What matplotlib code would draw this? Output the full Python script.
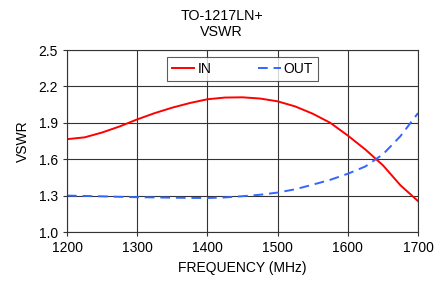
import matplotlib
matplotlib.use("Agg")
import matplotlib.pyplot as plt

freq = [1200, 1225, 1250, 1275, 1300, 1325, 1350, 1375, 1400, 1425, 1450, 1475,
        1500, 1525, 1550, 1575, 1600, 1625, 1650, 1675, 1700]
vswr_in = [1.765, 1.78, 1.82, 1.87, 1.928, 1.98, 2.025, 2.063, 2.094, 2.108, 2.11, 2.10,
           2.077, 2.035, 1.975, 1.90, 1.795, 1.68, 1.55, 1.385, 1.255]
vswr_out = [1.30, 1.297, 1.294, 1.29, 1.287, 1.285, 1.283, 1.281, 1.28, 1.285, 1.295, 1.307,
            1.325, 1.352, 1.39, 1.43, 1.48, 1.54, 1.64, 1.79, 1.98]
xticks = [1200, 1300, 1400, 1500, 1600, 1700]
yticks = [1.0, 1.3, 1.6, 1.9, 2.2, 2.5]

plt.rcParams['font.family'] = ['Liberation Sans', 'DejaVu Sans']
fig = plt.figure(figsize=(4.46, 2.83), dpi=100)
ax = fig.add_axes([67/446, 1-232/283, (418-67)/446, (232-50)/283])
ax.plot(freq, vswr_in, color='#FF0000', lw=1.4, label='IN')
ax.plot(freq, vswr_out, color='#3366FF', lw=1.4, ls=(0, (5, 3)), label='OUT')
ax.set_xlim(1200, 1700)
ax.set_ylim(1.0, 2.5)
ax.set_xticks(xticks)
ax.set_yticks(yticks)
ax.set_yticklabels([f"{v:.1f}" for v in yticks])
ax.grid(True, color='#333333', lw=0.8)
for s in ax.spines.values():
    s.set_color('#333333'); s.set_linewidth(0.8)
ax.tick_params(labelsize=10, length=3, color='#333333')
ax.set_xlabel('FREQUENCY (MHz)', fontsize=10, labelpad=4)
ax.set_ylabel('VSWR', fontsize=10, labelpad=6)
fig.text(0.497, 0.915, 'TO-1217LN+\nVSWR', ha='center', va='center', fontsize=10.3, linespacing=1.2)
leg = ax.legend(loc='upper center', ncol=2, fontsize=10, frameon=True, fancybox=False,
                edgecolor='#333333', handlelength=1.6, columnspacing=3.4, borderpad=0.35,
                bbox_to_anchor=(0.5, 0.96), borderaxespad=0, handletextpad=0.2)
leg.get_frame().set_linewidth(0.8)
fig.savefig('out.png', dpi=100)
